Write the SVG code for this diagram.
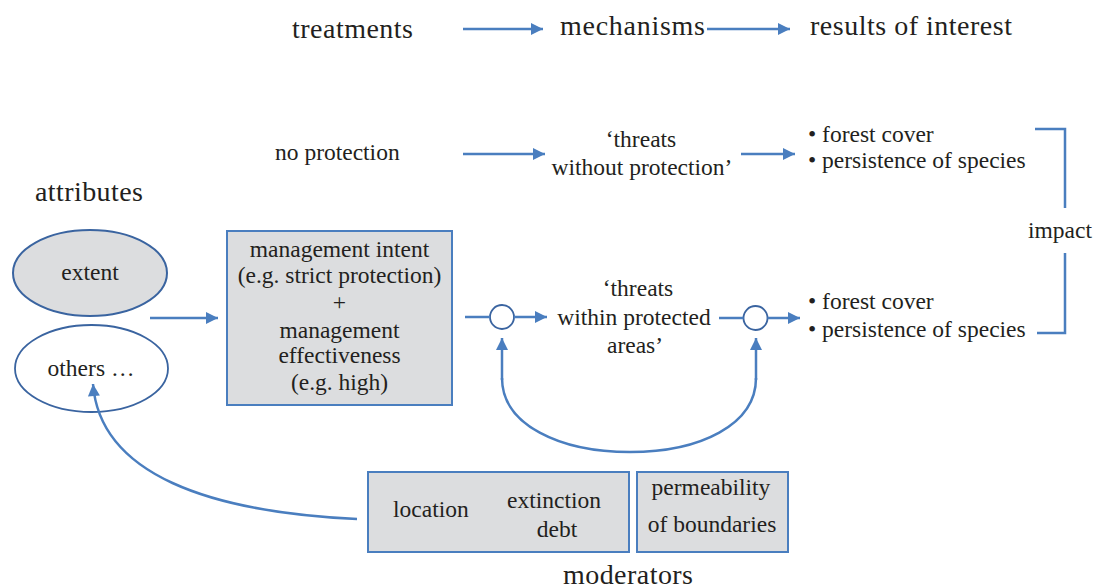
<svg xmlns="http://www.w3.org/2000/svg" width="1096" height="588" viewBox="0 0 1096 588">
<style>
text{font-family:"Liberation Serif","Times New Roman",serif;fill:#231f20;font-size:23.5px}
.h{font-size:28px}
.c{text-anchor:middle}
.ln{fill:none;stroke:#4a7ebf;stroke-width:2.5}
.box{fill:#dcdddf;stroke:#4a7ebf;stroke-width:2}
.node{fill:#fff;stroke:#3a64a0;stroke-width:1.8}
</style>
<defs>
<marker id="ah" viewBox="0 0 10 10" refX="10" refY="5" markerWidth="14" markerHeight="12" markerUnits="userSpaceOnUse" orient="auto">
<path d="M0,0 L10,5 L0,10 z" fill="#4a7ebf"/>
</marker>
</defs>
<rect width="1096" height="588" fill="#fff"/>
<g id="headers">
<text class="h" x="292" y="38" textLength="121">treatments</text>
<text class="h" x="560" y="35" textLength="145">mechanisms</text>
<text class="h" x="810" y="35" textLength="202">results of interest</text>
<text class="h" x="35" y="201" textLength="108">attributes</text>
<text class="h" x="563" y="584" textLength="130">moderators</text>
</g>
<g id="no-protection"><text x="275" y="160">no protection</text></g>
<g id="threats-without"><text class="c" x="641" y="147">‘threats</text><text class="c" x="642" y="175">without protection’</text></g>
<g id="results-top"><text x="808" y="142">• forest cover</text><text x="808" y="168">• persistence of species</text></g>
<g id="impact"><text x="1028" y="238">impact</text></g>
<g id="results-bottom"><text x="808" y="309">• forest cover</text><text x="808" y="337">• persistence of species</text></g>
<g id="extent"><ellipse cx="90" cy="273" rx="77" ry="43" fill="#dcdddf" stroke="#3a64a0" stroke-width="2"/><text class="c" x="90" y="280">extent</text></g>
<g id="others"><ellipse class="node" cx="91.5" cy="368.5" rx="76.5" ry="43.5"/><text class="c" x="91" y="376">others …</text></g>
<g id="management"><rect class="box" x="227" y="231" width="225" height="174"/>
<text class="c" x="339.5" y="257">management intent</text>
<text class="c" x="339.5" y="283">(e.g. strict protection)</text>
<text class="c" x="339.5" y="310">+</text>
<text class="c" x="339.5" y="338">management</text>
<text class="c" x="339.5" y="363">effectiveness</text>
<text class="c" x="339.5" y="390">(e.g. high)</text></g>
<g id="threats-within"><text class="c" x="638" y="296">‘threats</text><text class="c" x="634" y="325">within protected</text><text class="c" x="635" y="353">areas’</text></g>
<g id="circle1"><circle class="node" cx="502" cy="317" r="12"/></g>
<g id="circle2"><circle class="node" cx="755.5" cy="318" r="12"/></g>
<g id="moderators-box1"><rect class="box" x="368" y="472" width="261" height="80"/>
<text x="393" y="517">location</text>
<text class="c" x="554" y="508">extinction</text>
<text class="c" x="557" y="537">debt</text></g>
<g id="moderators-box2"><rect class="box" x="637" y="472" width="151" height="80"/>
<text class="c" x="711" y="495">permeability</text>
<text class="c" x="712" y="532">of boundaries</text></g>
<g id="connectors">
<line class="ln" x1="463" y1="29" x2="543" y2="29" marker-end="url(#ah)"/>
<line class="ln" x1="707" y1="29" x2="790" y2="29" marker-end="url(#ah)"/>
<line class="ln" x1="463" y1="154" x2="545" y2="154" marker-end="url(#ah)"/>
<line class="ln" x1="741" y1="154" x2="795" y2="154" marker-end="url(#ah)"/>
<line class="ln" x1="150" y1="318" x2="218" y2="318" marker-end="url(#ah)"/>
<line class="ln" x1="465" y1="317" x2="490" y2="317"/>
<line class="ln" x1="514" y1="317" x2="547" y2="317" marker-end="url(#ah)"/>
<line class="ln" x1="719" y1="318" x2="743.5" y2="318"/>
<line class="ln" x1="767.5" y1="318" x2="800" y2="318" marker-end="url(#ah)"/>
<path class="ln" d="M502,380 L502,338" marker-end="url(#ah)"/>
<path class="ln" d="M756,380 L756,338" marker-end="url(#ah)"/>
<path class="ln" d="M502,378 C502,425 560,452 630,452 C700,452 756,425 756,378"/>
<path class="ln" d="M357,519 C210,512 100,475 93,384" marker-end="url(#ah)"/>
<path class="ln" d="M1035,129 H1065 V208 M1065,253 V333 H1037"/>
</g>
</svg>
